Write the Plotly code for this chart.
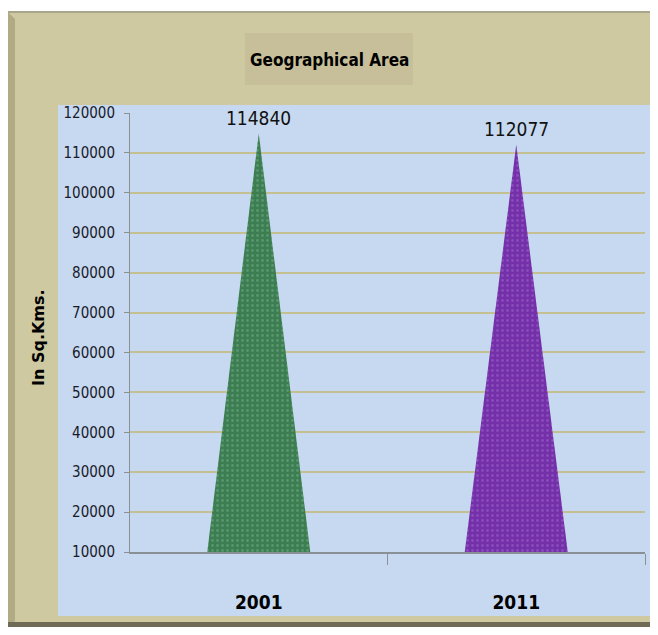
import plotly.graph_objects as go

# ---- data ----
years = ["2001", "2011"]
area = [114840, 112077]
bar_colors = ["#3d7d52", "#7330a8"]
bar_speckle = ["#74b088", "#a266d0"]
y_ticks = list(range(10000, 120001, 10000))

OFF = 8  # page body margin
W, H = 650, 619
L, R, T, B = 122, 13, 105, 75
pw, ph = W - L - R, H - T - B

def px(x):  # page pixel -> paper x
    return (x - OFF - L) / pw

def py(y):  # page pixel -> paper y
    return (H - B - (y - OFF)) / ph

ymin, ymax = 10000, 120000
bw = 0.4
NARROW = "Liberation Sans Narrow, DejaVu Sans Condensed, sans-serif"

fig = go.Figure()
for i, (yr, v) in enumerate(zip(years, area)):
    fig.add_trace(go.Scatter(
        x=[i - bw / 2, i, i + bw / 2, i - bw / 2],
        y=[ymin, v, ymin, ymin],
        mode="lines", fill="toself",
        fillcolor=bar_colors[i],
        fillpattern=dict(shape=".", fgcolor=bar_speckle[i], bgcolor=bar_colors[i],
                         size=5, solidity=0.25),
        line=dict(width=0, color=bar_colors[i]),
        hoverinfo="skip", showlegend=False,
    ))
    fig.add_annotation(x=i, y=v, text=str(v), showarrow=False, yshift=16,
                       xanchor="center", yanchor="middle",
                       font=dict(family=NARROW, size=19, color="#111111"))

shapes = [
    dict(type="rect", xref="paper", yref="paper", x0=px(0), x1=px(670), y0=py(12), y1=py(0),
         fillcolor="#ffffff", line=dict(width=0), layer="below"),
    dict(type="line", xref="paper", yref="paper", x0=px(8), x1=px(670), y0=py(12), y1=py(12),
         line=dict(color="#a9a58b", width=2), layer="below"),
    dict(type="path", xref="paper", yref="paper",
         path=f"M {px(8)},{py(12)} L {px(15)},{py(19)} L {px(15)},{py(621)} L {px(8)},{py(628)} Z",
         fillcolor="#b1ab85", line=dict(width=0), layer="below"),
    dict(type="line", xref="paper", yref="paper", x0=px(656), x1=px(656), y0=py(628), y1=py(12),
         line=dict(color="#b9b38e", width=2), layer="below"),
    dict(type="rect", xref="paper", yref="paper", x0=px(8), x1=px(670), y0=py(637), y1=py(622),
         fillcolor="#6f6b56", line=dict(width=0), layer="below"),
    dict(type="rect", xref="paper", yref="paper", x0=px(58), x1=px(651), y0=py(616), y1=py(105),
         fillcolor="#c6d9f0", line=dict(width=0), layer="below"),
    dict(type="rect", xref="paper", yref="paper", x0=px(245), x1=px(413), y0=py(85), y1=py(33),
         fillcolor="#c6bf99", line=dict(width=0), layer="below"),
]

fig.add_annotation(xref="paper", yref="paper", x=px(329), y=py(60), text="<b>Geographical Area</b>",
                   showarrow=False, xanchor="center", yanchor="middle",
                   font=dict(family=NARROW, size=17, color="#000000"))
fig.add_annotation(xref="paper", yref="paper", x=px(38), y=py(338), text="<b>In Sq.Kms.</b>",
                   showarrow=False, textangle=-90, xanchor="center", yanchor="middle",
                   font=dict(family="DejaVu Sans, sans-serif", size=16, color="#000000"))

fig.update_layout(
    width=W, height=H,
    margin=dict(l=L, r=R, t=T, b=B),
    paper_bgcolor="#cfc9a1",
    plot_bgcolor="rgba(0,0,0,0)",
    shapes=shapes,
    showlegend=False,
)
fig.update_xaxes(
    range=[-0.5, 1.5], tickvals=list(range(len(years))), ticktext=[f"<b>{y}</b>" for y in years],
    ticks="", showgrid=False, zeroline=False,
    showline=True, linecolor="#8a9196", linewidth=2,
    tickfont=dict(family=NARROW, size=19, color="#000000"),
    ticklabelstandoff=32,
    minor=dict(tickvals=[0.5, 1.5], ticks="outside", ticklen=11, tickcolor="#8a9196", tickwidth=1, showgrid=False),
)
fig.update_yaxes(
    range=[ymin, ymax], tickvals=y_ticks, ticktext=[str(t) for t in y_ticks],
    ticks="outside", ticklen=5, tickcolor="#8a9196",
    showline=True, linecolor="#8a9196", linewidth=1,
    showgrid=True, gridcolor="#c4c092", gridwidth=2, zeroline=False,
    tickfont=dict(family=NARROW, size=15, color="#1a1a2a"),
    ticklabelstandoff=6,
)

fig.write_html("out.html")
